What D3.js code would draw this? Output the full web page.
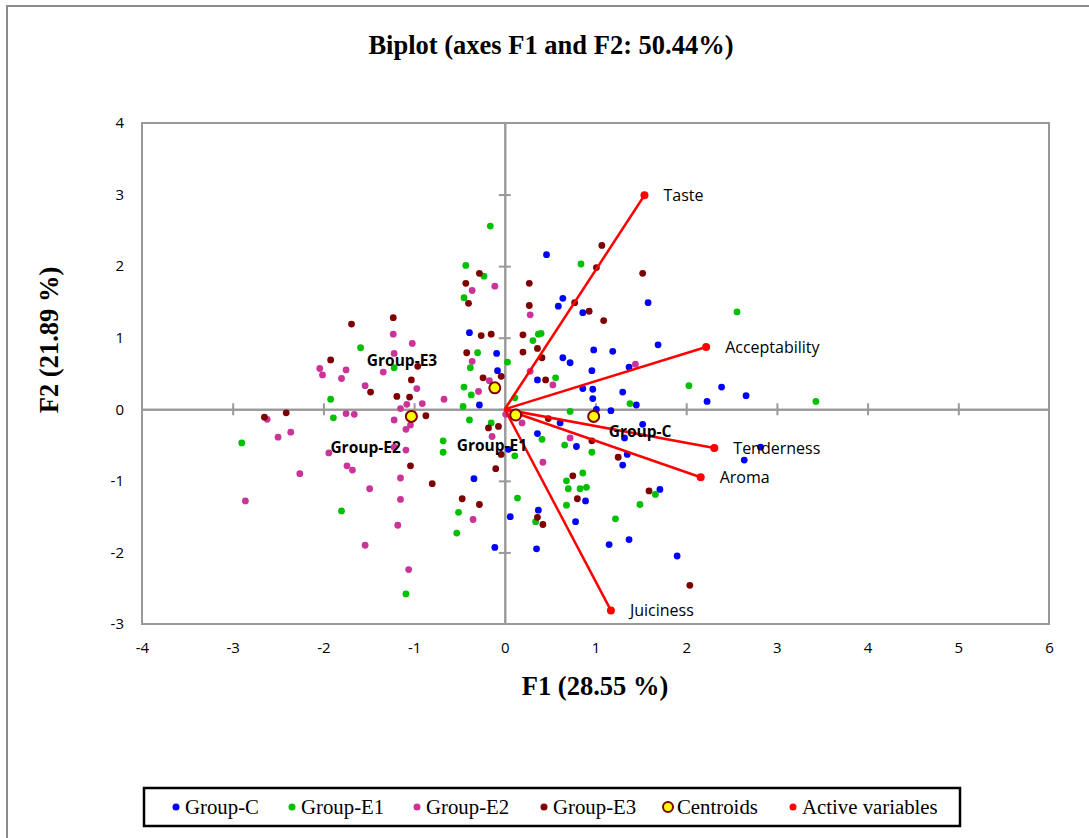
<!DOCTYPE html>
<html>
<head>
<meta charset="utf-8">
<script src="https://cdn.jsdelivr.net/npm/d3@7"></script>
<style>
  html, body { margin: 0; padding: 0; background: #fff; }
  svg { display: block; }
</style>
</head>
<body>
<svg id="biplot"></svg>
<script>
// observations per group, [F1, F2]
const groupC = [
  [-0.39, 1.07], [-0.09, 0.78], [-0.08, 0.54], [-0.28, 0.06], [0.46, 2.16], [0.64, 1.55],
  [0.59, 1.44], [0.86, 1.35], [1.58, 1.49], [0.64, 0.72], [0.72, 0.65], [0.98, 0.83],
  [1.19, 0.81], [1.69, 0.90], [0.36, 0.41], [0.96, 0.54], [1.37, 0.59], [0.86, 0.29],
  [0.97, 0.28], [0.97, 0.15], [1.30, 0.24], [1.45, 0.06], [2.23, 0.11], [2.39, 0.31],
  [2.66, 0.19], [1.01, 0.00], [1.17, -0.02], [0.61, -0.19], [0.36, -0.34], [0.04, -0.56],
  [0.79, -0.52], [1.32, -0.40], [1.52, -0.21], [1.35, -0.63], [1.30, -0.78], [-0.34, -0.97],
  [0.06, -1.50], [0.37, -1.41], [0.35, -1.95], [-0.11, -1.93], [0.78, -1.57], [0.89, -1.28],
  [1.15, -1.89], [1.37, -1.82], [1.71, -1.12], [1.90, -2.05], [2.82, -0.53], [2.64, -0.71]
];
const groupE1 = [
  [-0.43, 2.01], [-0.23, 1.86], [-0.45, 1.56], [-0.16, 2.56], [0.84, 2.03], [-1.59, 0.86],
  [-1.22, 0.58], [-1.92, 0.14], [-0.46, 0.04], [-0.37, 0.20], [-0.45, 0.31], [-0.30, 0.79],
  [-0.38, 0.58], [0.03, 0.66], [-0.39, -0.15], [-0.15, -0.19], [-1.89, -0.12], [-2.90, -0.47],
  [-1.80, -1.42], [-1.09, -2.58], [-0.68, -0.44], [-0.68, -0.60], [-0.51, -1.44], [-0.53, -1.73],
  [0.31, 0.96], [0.37, 1.05], [0.40, 1.06], [0.56, 0.44], [1.38, 0.08], [2.03, 0.33],
  [0.11, 0.16], [0.72, -0.03], [2.56, 1.36], [3.43, 0.11], [0.41, -0.42], [0.11, -0.65],
  [0.66, -0.50], [0.96, -0.60], [0.14, -1.24], [0.34, -1.57], [0.68, -1.34], [0.68, -1.00],
  [0.70, -1.11], [0.86, -0.89], [0.83, -1.11], [0.90, -1.09], [1.22, -1.53], [1.49, -1.33],
  [1.66, -1.19]
];
const groupE2 = [
  [-0.11, 1.72], [-0.36, 1.66], [-1.23, 1.05], [-1.02, 0.92], [-2.04, 0.57], [-2.01, 0.48],
  [-1.75, 0.55], [-1.80, 0.43], [-1.22, 0.78], [-1.34, 0.52], [-0.97, 0.29], [-1.54, 0.33],
  [-1.08, 0.07], [-1.15, 0.01], [-0.91, 0.08], [-0.67, 0.14], [-0.29, 0.25], [-0.36, 0.67],
  [-0.17, 0.40], [0.01, -0.07], [-2.62, -0.14], [-1.75, -0.06], [-1.66, -0.07], [-1.22, -0.15],
  [-1.04, -0.22], [-1.09, -0.28], [-2.50, -0.39], [-2.36, -0.32], [-2.26, -0.90], [-2.86, -1.28],
  [-1.94, -0.61], [-1.74, -0.79], [-1.68, -0.85], [-1.49, -1.11], [-1.54, -1.90], [-1.22, -0.53],
  [-1.09, -0.57], [-1.15, -0.96], [-1.15, -1.26], [-1.18, -1.62], [-1.06, -2.24], [-0.35, -1.54],
  [0.28, 1.32], [0.28, 0.53], [0.53, 0.34], [1.44, 0.63], [0.19, -0.19], [-0.14, -0.38],
  [0.72, -0.40], [0.42, -0.74]
];
const groupE3 = [
  [-0.28, 1.90], [-0.43, 1.76], [-0.40, 1.48], [-1.69, 1.19], [-1.23, 1.28], [-0.26, 1.03],
  [-0.15, 1.05], [-1.92, 0.69], [-0.96, 0.60], [-1.03, 0.41], [-1.48, 0.24], [-1.19, 0.18],
  [-1.05, 0.17], [-0.42, 0.79], [-0.24, 0.44], [-0.04, 0.46], [-0.18, -0.26], [-0.07, -0.24],
  [-2.65, -0.11], [-2.41, -0.05], [-0.87, -0.09], [-1.04, -0.79], [-0.80, -1.04], [-0.47, -1.25],
  [-0.28, -1.33], [-0.10, -0.83], [-0.04, -0.63], [1.07, 2.29], [1.01, 1.98], [1.52, 1.90],
  [0.27, 1.76], [0.77, 1.49], [0.93, 1.37], [1.09, 1.24], [0.27, 1.45], [0.20, 1.04],
  [0.36, 0.85], [0.20, 0.80], [0.41, 0.72], [0.45, 0.41], [0.48, -0.13], [0.96, -0.44],
  [1.25, -0.67], [0.36, -1.51], [0.42, -1.61], [0.80, -1.25], [0.75, -0.93], [1.59, -1.14],
  [2.04, -2.46]
];

const centroidNames = ['Group-C', 'Group-E1', 'Group-E2', 'Group-E3'];
const centroidValues = [[0.98, -0.10], [0.12, -0.08], [-1.03, -0.10], [-0.11, 0.30]];

const variableNames = ['Taste', 'Acceptability', 'Tenderness', 'Aroma', 'Juiciness'];
const variableValues = [[1.54, 2.99], [2.22, 0.87], [2.31, -0.54], [2.16, -0.95], [1.17, -2.81]];

const xTicks = [-4, -3, -2, -1, 0, 1, 2, 3, 4, 5, 6];
const yTicks = [-3, -2, -1, 0, 1, 2, 3, 4];

const legendLabels = ['Group-C', 'Group-E1', 'Group-E2', 'Group-E3', 'Centroids', 'Active variables'];

const width = 1089, height = 838;
const colors = { 'Group-C': '#0000ff', 'Group-E1': '#00c000', 'Group-E2': '#cc3399', 'Group-E3': '#7f0000' };
const groups = [
  { name: 'Group-C', pts: groupC },
  { name: 'Group-E1', pts: groupE1 },
  { name: 'Group-E2', pts: groupE2 },
  { name: 'Group-E3', pts: groupE3 }
];

const svg = d3.select('#biplot')
  .attr('width', width)
  .attr('height', height)
  .attr('viewBox', [0, 0, width, height]);

// outer chart frame (runs off the right and bottom of the picture)
svg.append('rect')
  .attr('x', 7).attr('y', 6)
  .attr('width', 1200).attr('height', 1000)
  .attr('fill', 'none').attr('stroke', '#8c8c8c').attr('stroke-width', 2);

const x = d3.scaleLinear().domain([-4, 6]).range([142, 1049]);
const y = d3.scaleLinear().domain([-3, 4]).range([624, 123]);

const serifBold = 'bold 26.5px "Liberation Serif", "Times New Roman", serif';

svg.append('text')
  .attr('x', 551).attr('y', 54)
  .attr('text-anchor', 'middle')
  .style('font', serifBold)
  .text('Biplot (axes F1 and F2: 50.44%)');

// plot frame
svg.append('rect')
  .attr('x', x(-4)).attr('y', y(4))
  .attr('width', x(6) - x(-4)).attr('height', y(-3) - y(4))
  .attr('fill', 'none').attr('stroke', '#999').attr('stroke-width', 2);

// tick labels at the frame edges
const tickFont = '15px "Open Sans", "DejaVu Sans", sans-serif';
const plain = d => String(d);
const bottomAxis = svg.append('g')
  .attr('transform', `translate(0,${y(-3)})`)
  .call(d3.axisBottom(x).tickValues(xTicks).tickFormat(plain).tickSize(0).tickPadding(18));
const leftAxis = svg.append('g')
  .attr('transform', `translate(${x(-4)},0)`)
  .call(d3.axisLeft(y).tickValues(yTicks).tickFormat(plain).tickSize(0).tickPadding(18));
[bottomAxis, leftAxis].forEach(a => {
  a.select('.domain').remove();
  a.selectAll('text').style('font', tickFont).attr('fill', '#000');
});

// axes through the origin, ticks crossing both sides
const crossAxis = (axisFn, scale, ticks, transform) => {
  [6, -6].forEach(s => {
    const g = svg.append('g')
      .attr('transform', transform)
      .call(axisFn(scale).tickValues(ticks).tickSize(s).tickSizeOuter(0).tickFormat(''));
    g.select('.domain').attr('stroke', '#999').attr('stroke-width', 2);
    g.selectAll('.tick line').attr('stroke', '#999').attr('stroke-width', 2);
  });
};
crossAxis(d3.axisBottom, x, xTicks.slice(1, -1), `translate(0,${y(0)})`);
crossAxis(d3.axisLeft, y, yTicks.slice(1, -1), `translate(${x(0)},0)`);

svg.append('text')
  .attr('x', 595).attr('y', 695)
  .attr('text-anchor', 'middle')
  .style('font', serifBold)
  .text('F1 (28.55 %)');

svg.append('text')
  .attr('transform', 'translate(58,340) rotate(-90)')
  .attr('text-anchor', 'middle')
  .style('font', serifBold)
  .text('F2 (21.89 %)');

// observations
groups.forEach(gr => {
  svg.append('g').selectAll('circle')
    .data(gr.pts)
    .join('circle')
      .attr('cx', d => x(d[0]))
      .attr('cy', d => y(d[1]))
      .attr('r', 3.4)
      .attr('fill', colors[gr.name]);
});

// active variables
const vars = svg.append('g');
vars.selectAll('line')
  .data(variableValues)
  .join('line')
    .attr('x1', x(0)).attr('y1', y(0))
    .attr('x2', d => x(d[0])).attr('y2', d => y(d[1]))
    .attr('stroke', '#ff0000').attr('stroke-width', 2.5);
vars.selectAll('circle')
  .data(variableValues)
  .join('circle')
    .attr('cx', d => x(d[0])).attr('cy', d => y(d[1]))
    .attr('r', 4).attr('fill', '#ff0000');
vars.selectAll('text')
  .data(variableValues)
  .join('text')
    .attr('x', d => x(d[0]) + 19)
    .attr('y', d => y(d[1]) + 6)
    .style('font', '16px "Open Sans", "DejaVu Sans", sans-serif')
    .attr('fill', '#000')
    .text((d, i) => variableNames[i]);

// centroids and their labels
const labelShift = { 'Group-C': [15, 16], 'Group-E1': [-59, 31], 'Group-E2': [-81, 32], 'Group-E3': [-128, -27] };
const cen = svg.append('g');
cen.selectAll('circle')
  .data(centroidValues)
  .join('circle')
    .attr('cx', d => x(d[0])).attr('cy', d => y(d[1]))
    .attr('r', 5.5)
    .attr('fill', '#ffff00').attr('stroke', '#7f0000').attr('stroke-width', 2);
cen.selectAll('text')
  .data(centroidValues)
  .join('text')
    .attr('x', (d, i) => x(d[0]) + labelShift[centroidNames[i]][0])
    .attr('y', (d, i) => y(d[1]) + labelShift[centroidNames[i]][1] + 5)
    .style('font', 'bold 15.5px "Open Sans", "DejaVu Sans", sans-serif')
    .attr('fill', '#000')
    .text((d, i) => centroidNames[i]);

// legend
const legend = svg.append('g');
legend.append('rect')
  .attr('x', 144).attr('y', 788)
  .attr('width', 816).attr('height', 38)
  .attr('fill', '#fff').attr('stroke', '#000').attr('stroke-width', 2.5);
const legendX = [176, 292, 417, 544, 668, 793];
legendLabels.forEach((lab, i) => {
  const cx = legendX[i], cy = 807;
  if (lab === 'Centroids') {
    legend.append('circle').attr('cx', cx).attr('cy', cy).attr('r', 5)
      .attr('fill', '#ffff00').attr('stroke', '#7f0000').attr('stroke-width', 2);
  } else {
    legend.append('circle').attr('cx', cx).attr('cy', cy).attr('r', 3.5)
      .attr('fill', lab === 'Active variables' ? '#ff0000' : colors[lab]);
  }
  legend.append('text')
    .attr('x', cx + 9).attr('y', cy + 7)
    .style('font', '20.8px "Liberation Serif", "Times New Roman", serif')
    .attr('fill', '#000')
    .text(lab);
});
</script>
</body>
</html>
